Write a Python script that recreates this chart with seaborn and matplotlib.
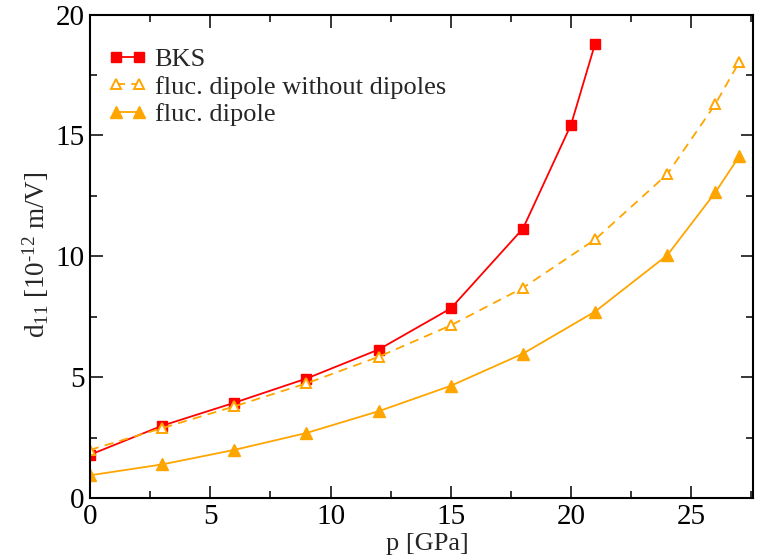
import matplotlib
matplotlib.use("Agg")
import matplotlib.pyplot as plt
from matplotlib.ticker import MultipleLocator
import seaborn as sns
import pandas as pd

# Pressure (GPa) and piezoelectric coefficient d11 (10^-12 m/V)
p_bks = [0, 3, 6, 9, 12, 15, 18, 20, 21]
d11_bks = [1.8, 3.0, 3.95, 4.95, 6.15, 7.85, 11.15, 15.45, 18.8]

p_fluc = [0, 3, 6, 9, 12, 15, 18, 21, 24, 26, 27]
d11_fluc_nodip = [2.0, 2.9, 3.8, 4.75, 5.85, 7.15, 8.7, 10.7, 13.4, 16.3, 18.05]
d11_fluc = [0.95, 1.4, 2.0, 2.7, 3.6, 4.65, 5.98, 7.72, 10.05, 12.65, 14.15]

labels = ["BKS", "fluc. dipole without dipoles", "fluc. dipole"]
red = "#ff0000"
orange = "#ffa500"

sns.set_style("ticks")
plt.rcParams["font.family"] = ["Liberation Serif", "DejaVu Serif"]
plt.rcParams["mathtext.fontset"] = "custom"
plt.rcParams["mathtext.rm"] = "Liberation Serif"
plt.rcParams["mathtext.it"] = "Liberation Serif:italic"

fig = plt.figure(figsize=(7.58, 5.58), dpi=100)
ax = fig.add_axes([0.1187, 0.107, 0.8743, 0.867])

df_bks = pd.DataFrame({"p": p_bks, "d11": d11_bks})
df_nodip = pd.DataFrame({"p": p_fluc, "d11": d11_fluc_nodip})
df_fluc = pd.DataFrame({"p": p_fluc, "d11": d11_fluc})

sns.lineplot(data=df_bks, x="p", y="d11", ax=ax, color=red, marker="s",
             markersize=6.5, markeredgecolor=red, markerfacecolor=red,
             markeredgewidth=1.0, linewidth=1.3, label=labels[0])
sns.lineplot(data=df_nodip, x="p", y="d11", ax=ax, color=orange, marker="^",
             markersize=7, markeredgecolor=orange, markerfacecolor="white",
             markeredgewidth=1.4, linewidth=1.3, linestyle=(0, (5, 3.5)),
             label=labels[1])
sns.lineplot(data=df_fluc, x="p", y="d11", ax=ax, color=orange, marker="^",
             markersize=8.5, markeredgecolor=orange, markerfacecolor=orange,
             markeredgewidth=1.0, linewidth=1.3, label=labels[2])

ax.set_xlim(0, 27.55)
ax.set_ylim(0, 20)
ax.xaxis.set_major_locator(MultipleLocator(5))
ax.xaxis.set_minor_locator(MultipleLocator(2.5))
ax.yaxis.set_major_locator(MultipleLocator(5))
ax.yaxis.set_minor_locator(MultipleLocator(2.5))

ax.tick_params(which="both", direction="in", top=True, right=True,
               colors="black", width=1.1)
ax.tick_params(which="major", length=9, labelsize=21, pad=4)
ax.tick_params(which="minor", length=5)
for s in ax.spines.values():
    s.set_linewidth(1.5)
    s.set_color("black")
    s.set_visible(True)

ax.set_xlabel("p [GPa]", fontsize=19)
ax.xaxis.set_label_coords(0.509, -0.071)
ax.set_ylabel("d$_{11}$ [10$^{\u201012}$ m/V]", fontsize=19.5)
ax.yaxis.set_label_coords(-0.059, 0.503)

ax.legend(loc="upper left", bbox_to_anchor=(0.02, 0.943), frameon=False,
          fontsize=19, numpoints=2, handlelength=1.45, handletextpad=0.3,
          labelspacing=0.16, borderpad=0.2, borderaxespad=0)

fig.savefig("out.png", dpi=100)
